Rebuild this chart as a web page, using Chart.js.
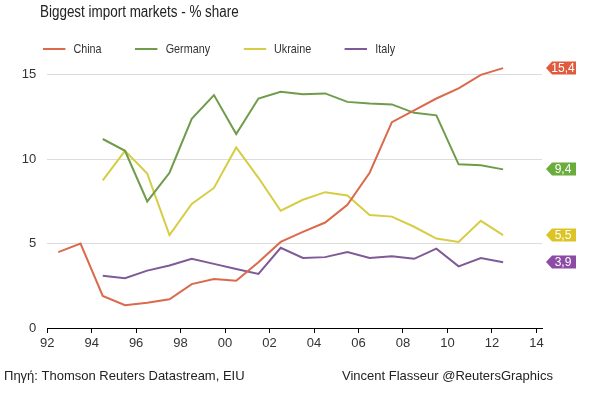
<!DOCTYPE html>
<html>
<head>
<meta charset="utf-8">
<script src="https://cdn.jsdelivr.net/npm/chart.js@4"></script>
<style>
  body { margin: 0; background: #fff; font-family: "Liberation Sans", Arial, sans-serif; }
  #wrap { position: relative; width: 608px; height: 393px; }
  #chart { position: absolute; left: 0; top: 0; }
  #title { position: absolute; left: 40px; top: 3px; font-size: 16px; color: #222;
           transform: scaleX(0.84); transform-origin: left top; white-space: nowrap; }
  #legend { position: absolute; left: 43px; top: 41px; display: flex; font-size: 13.5px; color: #333;
            transform: scaleX(0.8); transform-origin: left top; white-space: nowrap; }
  #legend .item { display: flex; align-items: center; margin-right: 42px; }
  #legend .line { width: 28px; height: 2px; margin-right: 10px; }
  .foot { position: absolute; top: 368px; font-size: 13px; color: #222; }
</style>
</head>
<body>
<div id="wrap">
  <canvas id="chart" width="608" height="393"></canvas>
  <div id="title">Biggest import markets - % share</div>
  <div id="legend"></div>
  <div class="foot" style="left:4px">Πηγή: Thomson Reuters Datastream, EIU</div>
  <div class="foot" style="left:342px">Vincent Flasseur @ReutersGraphics</div>
</div>
<script>
const years = [1992, 1993, 1994, 1995, 1996, 1997, 1998, 1999, 2000, 2001, 2002,
               2003, 2004, 2005, 2006, 2007, 2008, 2009, 2010, 2011, 2012];

const seriesNames = ['China', 'Germany', 'Ukraine', 'Italy'];
const lineColors = ['#da6a4b', '#6f9c4b', '#d7cd45', '#7e5b96'];
const tagColors = ['#e05b3d', '#6aad3d', '#dcc326', '#8c4ba4'];

const china   = [4.5, 5.0, 1.9, 1.35, 1.5, 1.7, 2.6, 2.9, 2.8, 3.9, 5.1,
                 5.7, 6.25, 7.3, 9.2, 12.2, 12.9, 13.6, 14.2, 15.0, 15.4];
const germany = [null, null, 11.2, 10.5, 7.5, 9.2, 12.4, 13.8, 11.5, 13.6, 14.0,
                 13.85, 13.9, 13.4, 13.3, 13.25, 12.75, 12.6, 9.7, 9.65, 9.4];
const ukraine = [null, null, 8.75, 10.5, 9.15, 5.5, 7.35, 8.3, 10.7, 8.9, 6.95,
                 7.6, 8.05, 7.85, 6.7, 6.6, 6.0, 5.3, 5.1, 6.35, 5.5];
const italy   = [null, null, 3.1, 2.95, 3.4, 3.7, 4.1, 3.8, 3.5, 3.2, 4.75,
                 4.15, 4.2, 4.5, 4.15, 4.25, 4.1, 4.7, 3.65, 4.15, 3.9];

const seriesValues = [china, germany, ukraine, italy];
const xTicks = [1992, 1994, 1996, 1998, 2000, 2002, 2004, 2006, 2008, 2010, 2012, 2014];
const yTicks = [0, 5, 10, 15];

// html legend
const legendEl = document.getElementById('legend');
seriesNames.forEach((name, i) => {
    const item = document.createElement('div');
    item.className = 'item';
    item.innerHTML = `<span class="line" style="background:${lineColors[i]}"></span><span>${name}</span>`;
    legendEl.appendChild(item);
});

const datasets = seriesNames.map((name, i) => ({
    label: name,
    // values are yearly, drawn at mid-year
    data: years.map((y, j) => ({ x: y + 0.5, y: seriesValues[i][j] })),
    borderColor: lineColors[i],
    backgroundColor: lineColors[i],
    borderWidth: 2,
    pointRadius: 0,
    tension: 0,
    spanGaps: false,
}));

// coloured end-value tags on the right
const endTags = {
    id: 'endTags',
    afterDatasetsDraw(chart) {
        const ctx = chart.ctx;
        const yScale = chart.scales.y;
        const tipX = chart.chartArea.right + 4;
        ctx.save();
        seriesValues.forEach((vals, i) => {
            const v = vals[vals.length - 1];
            const y = Math.round(yScale.getPixelForValue(v));
            const h = 13, bodyL = tipX + 6, bodyR = tipX + 30;
            ctx.fillStyle = tagColors[i];
            ctx.beginPath();
            ctx.moveTo(tipX, y);
            ctx.lineTo(bodyL, y - h / 2);
            ctx.lineTo(bodyR, y - h / 2);
            ctx.lineTo(bodyR, y + h / 2);
            ctx.lineTo(bodyL, y + h / 2);
            ctx.closePath();
            ctx.fill();
            ctx.fillStyle = '#fff';
            ctx.font = '12px "Liberation Sans", Arial, sans-serif';
            ctx.textAlign = 'center';
            ctx.textBaseline = 'middle';
            ctx.fillText(v.toFixed(1).replace('.', ','), (bodyL + bodyR) / 2 - 1, y + 1);
        });
        ctx.restore();
    }
};

new Chart(document.getElementById('chart'), {
    type: 'line',
    data: { datasets },
    options: {
        responsive: false,
        animation: false,
        layout: { padding: { left: 10.7, right: 66, top: 58, bottom: 43 } },
        plugins: {
            legend: { display: false },
            title: { display: false },
            tooltip: { enabled: false },
        },
        scales: {
            x: {
                type: 'linear',
                min: 1992,
                max: 2014.25,
                afterBuildTicks: (scale) => { scale.ticks = xTicks.map(v => ({ value: v })); },
                afterFit: (scale) => { scale.height = 22; },
                grid: { drawOnChartArea: false, drawTicks: true, tickLength: 5, color: '#000', lineWidth: 1 },
                border: { color: '#000', width: 1 },
                ticks: {
                    padding: 3,
                    maxRotation: 0,
                    autoSkip: false,
                    color: '#333',
                    font: { family: '"Liberation Sans", Arial, sans-serif', size: 13 },
                    callback: (v) => String(v % 100).padStart(2, '0'),
                },
            },
            y: {
                min: 0,
                max: 16,
                afterBuildTicks: (scale) => { scale.ticks = yTicks.map(v => ({ value: v })); },
                grid: {
                    drawTicks: false,
                    color: (c) => c.tick && c.tick.value === 0 ? 'rgba(0,0,0,0)' : '#dcdcdc',
                    lineWidth: 1,
                },
                border: { display: false },
                ticks: {
                    padding: 11,
                    autoSkip: false,
                    color: '#333',
                    font: { family: '"Liberation Sans", Arial, sans-serif', size: 13 },
                },
            },
        },
    },
    plugins: [endTags],
});
</script>
</body>
</html>
